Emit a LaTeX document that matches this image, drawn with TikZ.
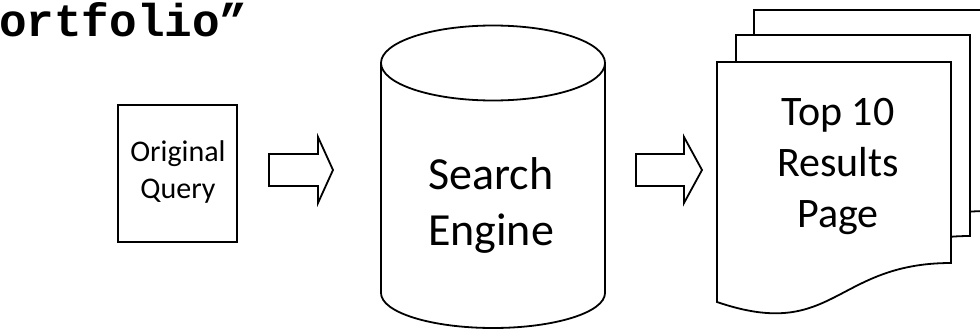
\documentclass[tikz,border=0pt]{standalone}
\usepackage{fontspec}
\setmainfont{Carlito}
\newfontfamily\monofnt{Liberation Mono}
\begin{document}
\begin{tikzpicture}[x=1pt,y=-1pt,
  shp/.style={draw=black,line width=1.8pt,fill=white,line join=miter},
  lbl/.style={align=center,inner sep=0pt,text=black}]
\useasboundingbox (0,0) rectangle (980,329);
\clip (0,0) rectangle (980,329);
% title
\node[anchor=base west,inner sep=0pt,font=\monofnt\bfseries\fontsize{46}{50}\selectfont] (title) at (-1,37) {ortfolio”};
% original query box
\node[shp,minimum width=119pt,minimum height=137pt,inner sep=0pt] (qbox) at (177.5,173.5) {};
\node[lbl,font=\fontsize{30}{37}\selectfont] (q) at (178,172) {Original\\Query};
% arrow 1
\draw[shp] (269,154) -- (318,154) -- (318,137) -- (333,170) -- (318,203) -- (318,186) -- (269,186) -- cycle;
% cylinder
\draw[shp] (381,63) -- (381,293) .. controls (381,312.3) and (431.1,328) .. (493,328)
  .. controls (554.9,328) and (605,312.3) .. (605,293) -- (605,63);
\draw[shp] (493,63) ellipse [x radius=112, y radius=37.5];
\node[lbl,font=\fontsize{46}{56}\selectfont] (se) at (491,205) {Search\\Engine};
% arrow 2
\draw[shp] (636,154) -- (684,154) -- (684,137) -- (702,170) -- (684,203) -- (684,186) -- (636,186) -- cycle;
% documents (back to front)
\foreach \ox/\oy in {754/10, 736/35, 717/62}{
  \draw[shp] (\ox,\oy) -- (\ox+234,\oy) -- (\ox+234,\oy+201)
    .. controls (\ox+117,\oy+201) and (\ox+117,\oy+280) .. (\ox,\oy+240) -- cycle;
}
\node[lbl,font=\fontsize{42}{51}\selectfont] (res) at (838,166) {Top 10\\Results\\Page};
\end{tikzpicture}
\end{document}
